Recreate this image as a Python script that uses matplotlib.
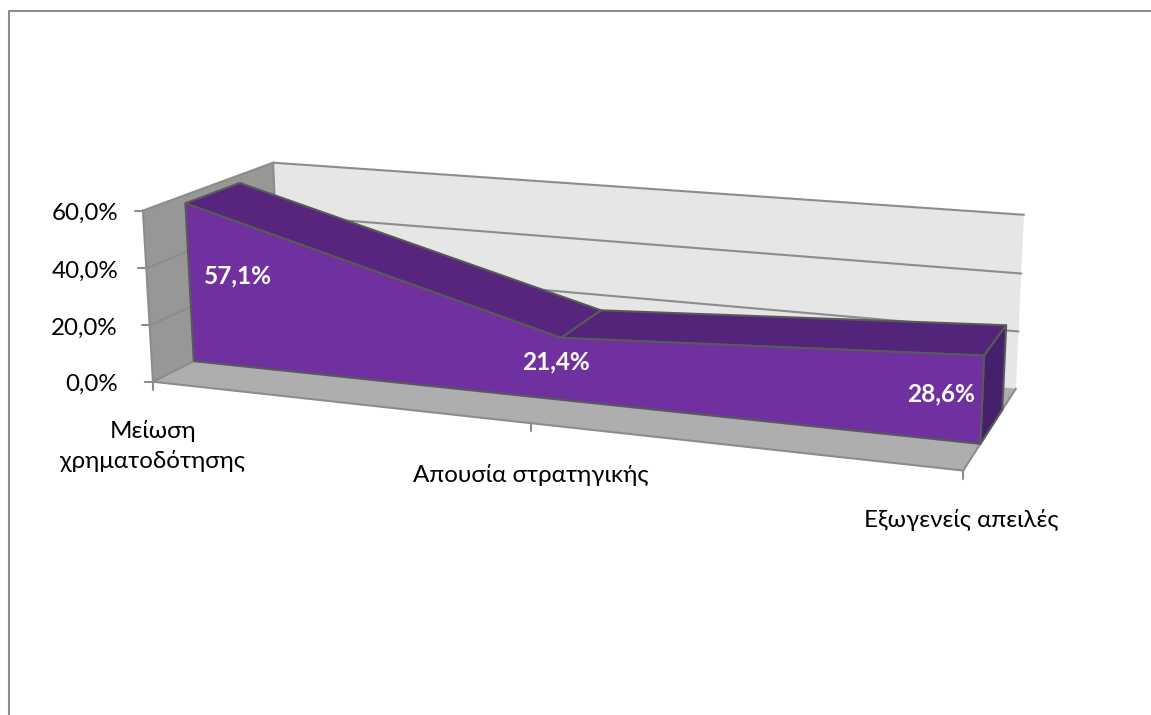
import numpy as np
import matplotlib
matplotlib.use("Agg")
import matplotlib.pyplot as plt
from matplotlib.patches import Polygon

# ---- data ----
categories = ["Μείωση\nχρηματοδότησης", "Απουσία στρατηγικής", "Εξωγενείς απειλές"]
values = [57.1, 21.4, 28.6]
data_labels = ["57,1%", "21,4%", "28,6%"]
y_ticks = [0, 20, 40, 60]
y_tick_labels = ["0,0%", "20,0%", "40,0%", "60,0%"]

# ---- layout ----
W, H = 1151, 715
DEPTH_FRONT, DEPTH_BACK = 0.30, 0.72
LABEL_XY = [(238, 276), (556, 362), (941, 394)]
CAT_LABEL_XY = [(153, 446), (531, 475), (961, 520)]
# camera calibration: (x 0..1, value, depth 0..1) -> image pixel, weight
CAL = [((0, 60, 0), (143, 210), 5), ((0, 40, 0), (146.5, 269), 1), ((0, 20, 0), (150, 325), 1),
       ((0, 0, 0), (153, 382), 5), ((1, 0, 0), (963, 471), 5), ((.5, 0, 0), (531, 423), 3),
       ((0, 60, 1), (273, 163), 5), ((0, 0, 1), (267, 316), 0.3), ((1, 60, 1), (1024, 215), 5),
       ((1, 40, 1), (1021, 274), 1), ((1, 20, 1), (1019, 332), 1), ((1, 0, 1), (1016, 388), 5)]
A = []
b = []
for (x, v, d), (u, w), k in CAL:
    A.append([k*c for c in [x, v, d, 1, 0, 0, 0, 0, -u*x, -u*v, -u*d]]); b.append(k*u)
    A.append([k*c for c in [0, 0, 0, 0, x, v, d, 1, -w*x, -w*v, -w*d]]); b.append(k*w)
m = np.linalg.lstsq(np.array(A, float), np.array(b, float), rcond=None)[0]
M = np.append(m, 1).reshape(3, 4)

def P(x, v, d):
    p = M @ np.array([x, v, d, 1.0])
    return (p[0]/p[2], p[1]/p[2])

plt.rcParams["font.family"] = ["Lato", "Noto Sans", "DejaVu Sans"]
fig = plt.figure(figsize=(W/100, H/100), dpi=100, facecolor="white")
ax = fig.add_axes([0, 0, 1, 1])
ax.set_xlim(0, W); ax.set_ylim(H, 0); ax.axis("off")

def poly(pts, fc, ec="none", lw=0, z=1):
    ax.add_patch(Polygon(pts, closed=True, fc=fc, ec=ec, lw=lw, zorder=z, joinstyle="round"))

def line(a, b, c="#8C8C8C", lw=1.5, z=2):
    ax.plot([a[0], b[0]], [a[1], b[1]], color=c, lw=lw, zorder=z, solid_capstyle="round")

vmax = y_ticks[-1]
# chart frame
ax.plot([9, 9, W], [H, 11, 11], color="#8C8C8C", lw=1.5, zorder=0)
# walls & floor
poly([P(0, 0, 1), P(0, vmax, 1), P(1, vmax, 1), P(1, 0, 1)], "#E6E6E6")
poly([P(0, 0, 0), P(0, vmax, 0), P(0, vmax, 1), P(0, 0, 1)], "#979797")
poly([P(0, 0, 0), P(1, 0, 0), P(1, 0, 1), P(0, 0, 1)], "#AEAEAE")
# gridlines
for t in y_ticks[1:]:
    line(P(0, t, 1), P(1, t, 1))
    line(P(0, t, 0), P(0, t, 1))
line(P(0, 0, 0), P(0, 0, 1))
line(P(0, 0, 1), P(0, vmax, 1))
line(P(0, 0, 0), P(0, vmax, 0))
line(P(0, 0, 0), P(1, 0, 0))
line(P(1, 0, 0), P(1, 0, 1))
# ticks and labels
for t, lab in zip(y_ticks, y_tick_labels):
    q = P(0, t, 0)
    line(q, (q[0]-8, q[1]))
    ax.text(118, q[1]+3, lab, ha="right", va="center", fontsize=17.4, color="black", zorder=5)
n = len(categories)
xs = [i/(n-1) for i in range(n)]
for x, lab, xy in zip(xs, categories, CAT_LABEL_XY):
    q = P(x, 0, 0)
    line(q, (q[0], q[1]+8))
    ax.text(xy[0], xy[1], lab, ha="center", va="center", fontsize=17.4, color="black",
            linespacing=1.5, zorder=5)
# area
EC = "#595959"
top_cols = ["#57257E", "#52247A"]
for i in range(n-1):
    poly([P(xs[i], values[i], DEPTH_FRONT), P(xs[i+1], values[i+1], DEPTH_FRONT),
          P(xs[i+1], values[i+1], DEPTH_BACK), P(xs[i], values[i], DEPTH_BACK)],
         top_cols[i], EC, 1.5, z=3)
poly([P(1, values[-1], DEPTH_FRONT), P(1, values[-1], DEPTH_BACK),
      P(1, 0, DEPTH_BACK), P(1, 0, DEPTH_FRONT)], "#47206B", EC, 1.5, z=3)
front = [P(x, v, DEPTH_FRONT) for x, v in zip(xs, values)] + [P(1, 0, DEPTH_FRONT), P(0, 0, DEPTH_FRONT)]
poly(front, "#7030A0", EC, 1.5, z=4)
for lab, xy in zip(data_labels, LABEL_XY):
    ax.text(xy[0], xy[1], lab, ha="center", va="center", fontsize=17.6, fontweight="bold",
            color="white", zorder=6)
fig.savefig("out.png", dpi=100)
